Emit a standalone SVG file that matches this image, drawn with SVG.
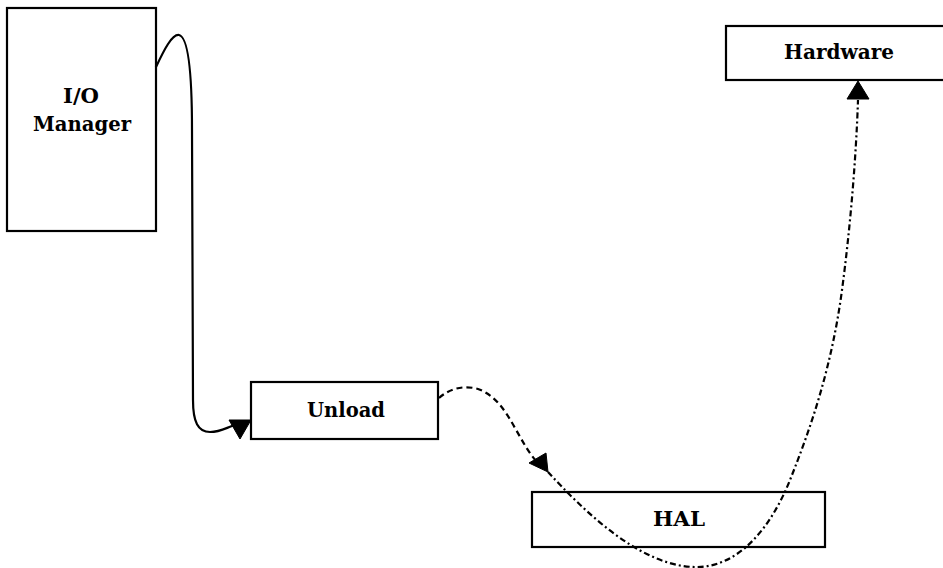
<svg xmlns="http://www.w3.org/2000/svg" width="943" height="568" viewBox="0 0 943 568">
  <style>
    .box { fill: #ffffff; stroke: #000000; stroke-width: 2.2; }
    .label { font-family: "DejaVu Serif", "Liberation Serif", serif; font-weight: bold; font-size: 21px; fill: #000000; text-anchor: middle; }
    .wire { fill: none; stroke: #000000; stroke-width: 2.2; stroke-linecap: round; }
    .dash { stroke-dasharray: 6 4; stroke-linecap: butt; }
    .dashdot { stroke-dasharray: 6 3 2 3; stroke-linecap: butt; }
    .head { fill: #000000; stroke: #000000; stroke-width: 1; }
  </style>
  <rect width="943" height="568" fill="#ffffff"/>

  <g id="io-manager">
    <rect class="box" x="7" y="8" width="149" height="223"/>
    <text class="label" x="81" y="103" textLength="36" lengthAdjust="spacingAndGlyphs">I/O</text>
    <text class="label" x="82" y="131" textLength="98" lengthAdjust="spacingAndGlyphs">Manager</text>
  </g>

  <g id="hardware">
    <rect class="box" x="726" y="26" width="222" height="54"/>
    <text class="label" x="839" y="59" textLength="110" lengthAdjust="spacingAndGlyphs">Hardware</text>
  </g>

  <g id="unload">
    <rect class="box" x="251" y="382" width="187" height="57"/>
    <text class="label" x="346" y="417" textLength="78" lengthAdjust="spacingAndGlyphs">Unload</text>
  </g>

  <g id="hal">
    <rect class="box" x="532" y="492" width="293" height="55"/>
    <text class="label" x="679" y="526" textLength="52" lengthAdjust="spacingAndGlyphs">HAL</text>
  </g>

  <g id="connectors">
    <!-- I/O Manager to Unload -->
    <path class="wire" d="M156,67 C 164,50 172,34 179,35 C 188,37 192,70 192,130 L 193,400 C 193,422 198,432 210,432 C 220,432 226,428 232,426"/>
    <polygon class="head" points="229,420 251,420 240,439"/>

    <!-- Unload to HAL -->
    <path class="wire dash" d="M439,398 C 450,388 465,385 478,389 C 495,395 505,410 515,428 C 522,440 528,452 537,462"/>
    <polygon class="head" points="529,463 546,453 548,472"/>

    <!-- HAL loop up to Hardware -->
    <path class="wire dashdot" d="M548,472 C 585,512 640,566 695,567 C 740,568 772,525 790,480 C 812,425 832,365 842,290 C 850,230 856,160 858,100"/>
    <polygon class="head" points="858,81 847,99 869,99"/>
  </g>
</svg>
